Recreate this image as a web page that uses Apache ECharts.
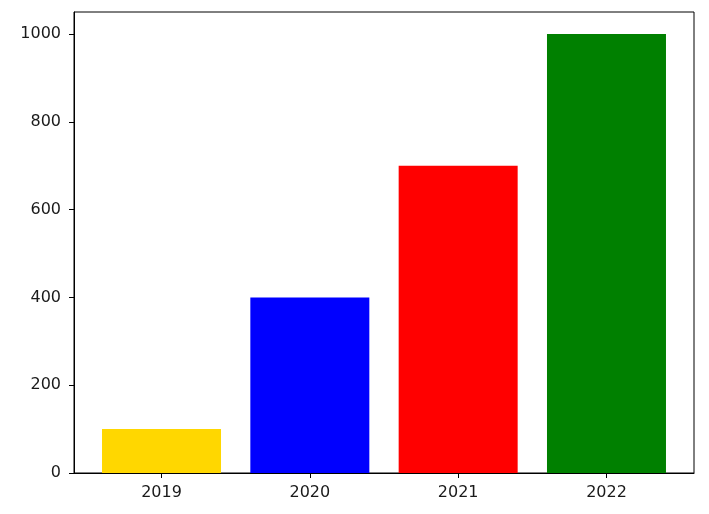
<!DOCTYPE html>
<html>
<head>
<meta charset="utf-8">
<script src="https://cdn.jsdelivr.net/npm/echarts@6/dist/echarts.min.js"></script>
<style>html,body{margin:0;padding:0;background:#fff}#c{width:709px;height:514px}</style>
</head>
<body>
<div id="c"></div>
<script>
const categories = ['2019', '2020', '2021', '2022'];
const values = [100, 400, 700, 1000];
const barColors = ['#FFD700', '#0000FF', '#FF0000', '#008000'];
const yTicks = [0, 200, 400, 600, 800, 1000];

const chart = echarts.init(document.getElementById('c'), null, {renderer: 'canvas'});
const font = {fontFamily: 'DejaVu Sans', fontSize: 16, color: '#1a1a1a'};
chart.setOption({
  animation: false,
  grid: {left: 74, right: 15, top: 12, bottom: 41, show: true, borderColor: '#000', borderWidth: 1, containLabel: false},
  xAxis: {
    type: 'value', min: -0.59, max: 3.59,
    axisLine: {show: true, onZero: false, lineStyle: {color: '#000'}},
    axisTick: {show: true, inside: false, length: 5, lineStyle: {color: '#000'}, customValues: categories.map((c, i) => i)},
    axisLabel: Object.assign({margin: 12, customValues: categories.map((c, i) => i), formatter: v => categories[Math.round(v)]}, font),
    splitLine: {show: false}
  },
  yAxis: {
    type: 'value', min: 0, max: 1050,
    axisLine: {show: true, onZero: false, lineStyle: {color: '#000'}},
    axisTick: {show: true, inside: false, length: 5, lineStyle: {color: '#000'}, customValues: yTicks},
    axisLabel: Object.assign({margin: 13, customValues: yTicks, formatter: v => String(v)}, font),
    splitLine: {show: false}
  },
  series: [{
    type: 'bar',
    barWidth: 119,
    data: values.map((v, i) => ({value: [i, v], itemStyle: {color: barColors[i]}}))
  }]
});
</script>
</body>
</html>
